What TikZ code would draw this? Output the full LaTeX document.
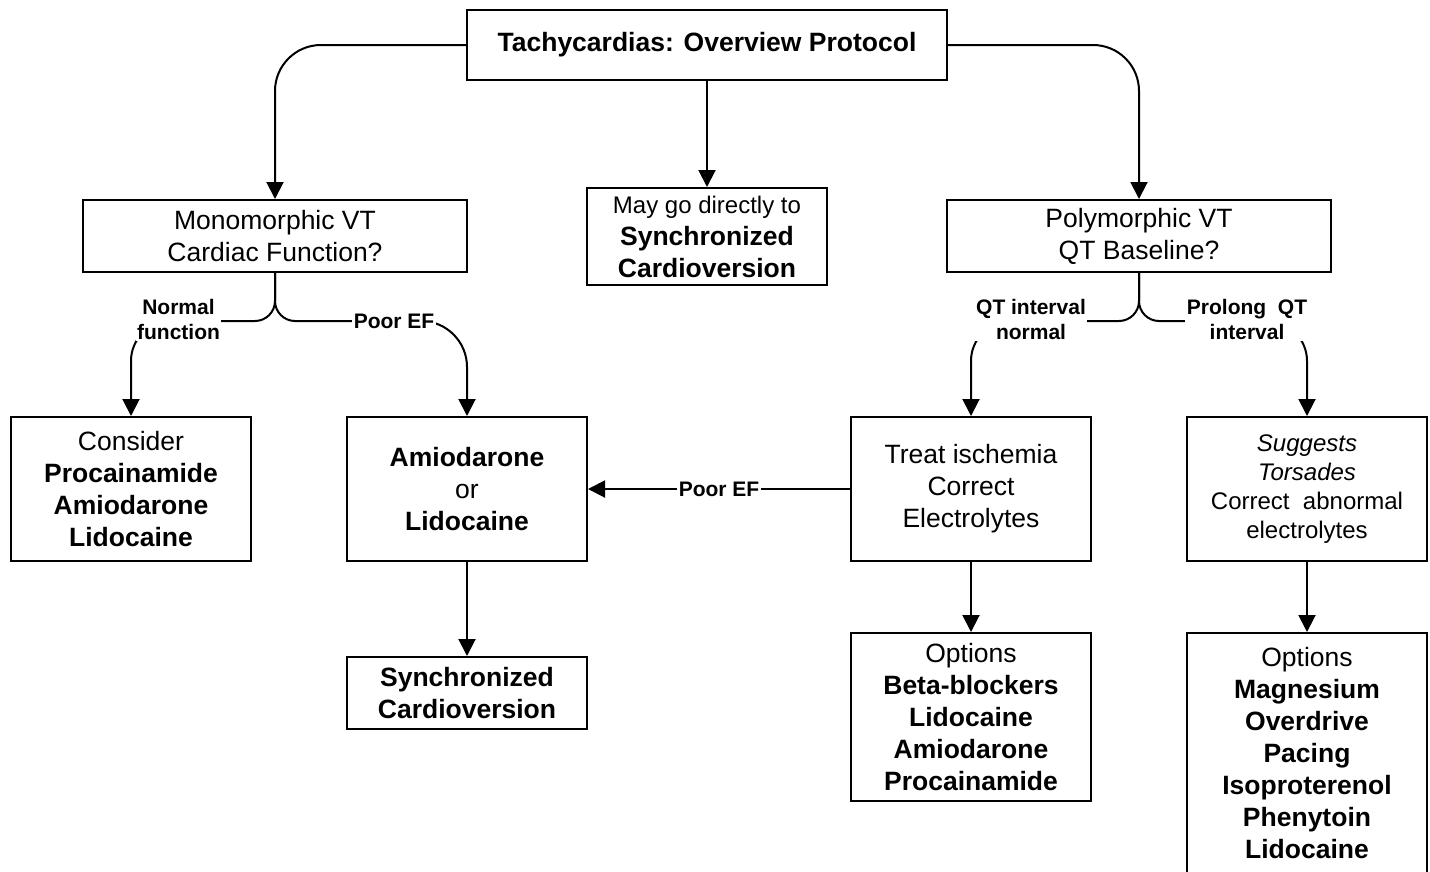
\documentclass[tikz,border=0pt]{standalone}
\usepackage{fontspec}
\setmainfont{Liberation Sans}
\usetikzlibrary{arrows.meta}
\begin{document}
\begin{tikzpicture}[x=1pt,y=-1pt,
  box/.style={draw, line width=2pt, inner sep=0pt, align=center,
              font=\fontsize{26.5}{32}\selectfont},
  small/.style={font=\fontsize{24}{29}\selectfont},
  lbl/.style={fill=white, inner sep=1.5pt, align=center,
              font=\fontsize{21}{25}\selectfont\bfseries},
  link/.style={line width=2pt},
  arr/.style={link, -{Triangle[length=17pt,width=17pt]}}]
\fill[white] (0,0) rectangle (1430,871);
\useasboundingbox (0,0) rectangle (1430,871);

% boxes
\node[box, minimum width=480pt, minimum height=70pt] (title) at (707,45)
  {\textbf{Tachycardias: Overview Protocol}};
\node[box, minimum width=384pt, minimum height=72pt] (mono) at (275,236)
  {Monomorphic VT\\Cardiac Function?};
\node[box, minimum width=240pt, minimum height=97pt] (direct) at (707,236.5)
  {{\fontsize{24}{29}\selectfont May go directly to}\\\textbf{Synchronized}\\\textbf{Cardioversion}};
\node[box, minimum width=384pt, minimum height=72pt] (poly) at (1139,236)
  {Polymorphic VT\\QT Baseline?};
\node[box, minimum width=240pt, minimum height=144pt] (consider) at (131,489)
  {Consider\\\textbf{Procainamide}\\\textbf{Amiodarone}\\\textbf{Lidocaine}};
\node[box, minimum width=240pt, minimum height=144pt] (amio) at (467,489)
  {\textbf{Amiodarone}\\or\\\textbf{Lidocaine}};
\node[box, minimum width=240pt, minimum height=144pt] (treat) at (971,489)
  {Treat ischemia\\Correct\\Electrolytes};
\node[box, small, minimum width=240pt, minimum height=144pt] (torsades) at (1307,489)
  {\textit{Suggests}\\\textit{Torsades}\\Correct~~abnormal\\electrolytes};
\node[box, minimum width=240pt, minimum height=72pt] (sync) at (467,693)
  {\textbf{Synchronized}\\\textbf{Cardioversion}};
\node[box, minimum width=240pt, minimum height=168pt] (optA) at (971,717)
  {Options\\\textbf{Beta-blockers}\\\textbf{Lidocaine}\\\textbf{Amiodarone}\\\textbf{Procainamide}};
\node[box, minimum width=240pt, minimum height=240pt] (optB) at (1307,753)
  {Options\\\textbf{Magnesium}\\\textbf{Overdrive}\\\textbf{Pacing}\\\textbf{Isoproterenol}\\\textbf{Phenytoin}\\\textbf{Lidocaine}};

% connectors from the title
\draw[arr] (title.west) -- (321,45) .. controls (295.6,45) and (275,65.6) .. (275,91) -- (mono.north);
\draw[arr] (title.east) -- (1093,45) .. controls (1118.4,45) and (1139,65.6) .. (1139,91) -- (poly.north);
\draw[arr] (title.south) -- (direct.north);

% monomorphic branches
\draw[arr] (mono.south) -- (275,301) .. controls (275,312) and (266,321) .. (255,321)
  -- (171,321) .. controls (149,321) and (131,339) .. (131,361) -- (consider.north);
\draw[arr] (mono.south) -- (275,301) .. controls (275,312) and (284,321) .. (295,321)
  -- (421,321) .. controls (446.4,321) and (467,341.6) .. (467,367) -- (amio.north);

% polymorphic branches
\draw[arr] (poly.south) -- (1139,301) .. controls (1139,312) and (1130,321) .. (1119,321)
  -- (1011,321) .. controls (989,321) and (971,339) .. (971,361) -- (treat.north);
\draw[arr] (poly.south) -- (1139,301) .. controls (1139,312) and (1148,321) .. (1159,321)
  -- (1267,321) .. controls (1289,321) and (1307,339) .. (1307,361) -- (torsades.north);

% lower arrows
\draw[arr] (treat.west) -- (amio.east);
\draw[arr] (amio.south) -- (sync.north);
\draw[arr] (treat.south) -- (optA.north);
\draw[arr] (torsades.south) -- (optB.north);

% connector labels
\node[lbl] (lnormal) at (178.5,319.5) {Normal\\function};
\node[lbl] (lpoor) at (394,321) {Poor EF};
\node[lbl] (lqtn) at (1031,319.5) {QT interval\\normal};
\node[lbl] (lqtp) at (1247,319.5) {Prolong~~QT\\interval};
\node[lbl] (lpoor2) at (719,489) {Poor EF};
\end{tikzpicture}
\end{document}
